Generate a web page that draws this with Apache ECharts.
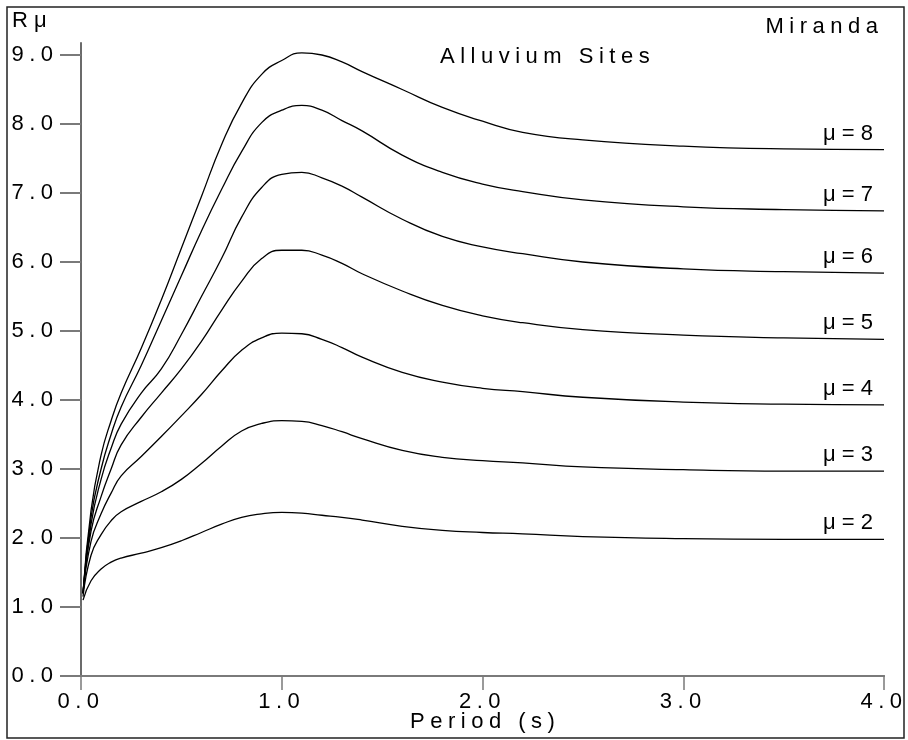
<!DOCTYPE html>
<html>
<head>
<meta charset="utf-8">
<title>Alluvium Sites</title>
<script src="https://cdn.jsdelivr.net/npm/echarts@6/dist/echarts.min.js"></script>
<style>
  html, body { margin: 0; padding: 0; background: #fff; }
  #chart { width: 908px; height: 740px; }
</style>
</head>
<body>
<div id="chart"></div>
<script>
// period (s) sampled along every curve
const periods = [0.01, 0.05, 0.1, 0.15, 0.2, 0.3, 0.4, 0.5, 0.6, 0.7, 0.8, 0.9, 1.0, 1.1, 1.2, 1.3, 1.4, 1.6, 1.8, 2.0, 2.2, 2.5, 3.0, 3.5, 4.0]

// R mu values
const mu8 = [1.2, 2.4, 3.2, 3.7, 4.1, 4.75, 5.45, 6.2, 6.95, 7.7, 8.3, 8.72, 8.92, 9.03, 9.0, 8.9, 8.76, 8.5, 8.24, 8.04, 7.88, 7.77, 7.68, 7.64, 7.63]
const mu7 = [1.2, 2.3, 3.0, 3.5, 3.9, 4.5, 5.15, 5.8, 6.45, 7.05, 7.6, 8.02, 8.2, 8.27, 8.2, 8.05, 7.9, 7.55, 7.3, 7.13, 7.02, 6.9, 6.8, 6.76, 6.74]
const mu6 = [1.2, 2.2, 2.85, 3.3, 3.65, 4.1, 4.45, 4.95, 5.5, 6.05, 6.65, 7.08, 7.27, 7.3, 7.22, 7.1, 6.94, 6.62, 6.37, 6.22, 6.12, 6.0, 5.9, 5.86, 5.84]
const mu5 = [1.2, 2.1, 2.6, 3.0, 3.35, 3.75, 4.1, 4.45, 4.85, 5.3, 5.72, 6.05, 6.17, 6.17, 6.1, 5.98, 5.83, 5.58, 5.37, 5.22, 5.12, 5.02, 4.94, 4.9, 4.88]
const mu4 = [1.2, 1.95, 2.35, 2.65, 2.9, 3.18, 3.47, 3.77, 4.08, 4.42, 4.72, 4.9, 4.97, 4.96, 4.88, 4.76, 4.62, 4.4, 4.26, 4.17, 4.12, 4.04, 3.97, 3.94, 3.93]
const mu3 = [1.15, 1.75, 2.05, 2.25, 2.38, 2.53, 2.67, 2.85, 3.08, 3.33, 3.55, 3.66, 3.7, 3.69, 3.63, 3.54, 3.44, 3.27, 3.17, 3.12, 3.09, 3.03, 2.99, 2.97, 2.97]
const mu2 = [1.1, 1.38, 1.55, 1.65, 1.71, 1.78, 1.86, 1.96, 2.08, 2.2, 2.3, 2.35, 2.37, 2.36, 2.33, 2.3, 2.26, 2.17, 2.11, 2.08, 2.06, 2.02, 1.99, 1.98, 1.98]

const curveNames = ['μ = 8', 'μ = 7', 'μ = 6', 'μ = 5', 'μ = 4', 'μ = 3', 'μ = 2']
const curveValues = [mu8, mu7, mu6, mu5, mu4, mu3, mu2]

const xTickLabels = ['0.0', '1.0', '2.0', '3.0', '4.0']
const yTickLabels = ['0.0', '1.0', '2.0', '3.0', '4.0', '5.0', '6.0', '7.0', '8.0', '9.0']

const font = 'Liberation Sans, Arial, sans-serif'
const gray = '#7a7a7a'
// the plot lettering is spread out, so put a quarter-em space between characters
const spaced = s => s.split('').join('\u2005')

const chart = echarts.init(document.getElementById('chart'))

chart.setOption({
  backgroundColor: '#fff',
  animation: false,
  textStyle: { fontFamily: font, color: '#000' },
  title: [
    { text: 'R μ', left: 12, top: 10, padding: 0,
      textStyle: { fontSize: 22, fontWeight: 'normal', color: '#000', fontFamily: font } },
    { text: spaced('Miranda'), right: 30, top: 16, padding: 0,
      textStyle: { fontSize: 22, fontWeight: 'normal', color: '#000', fontFamily: font } },
    { text: spaced('Alluvium Sites'), left: 440, top: 46, padding: 0,
      textStyle: { fontSize: 22, fontWeight: 'normal', color: '#000', fontFamily: font } }
  ],
  graphic: [
    { type: 'rect', shape: { x: 7, y: 7, width: 897, height: 731 },
      style: { fill: 'none', stroke: '#222', lineWidth: 1.5 }, silent: true }
  ],
  grid: [
    { left: 81, right: 24, top: 43, bottom: 64, outerBoundsMode: 'none' },
    { left: 81, right: 24, top: 55, bottom: 64, outerBoundsMode: 'none' }
  ],
  xAxis: [
    {
      gridIndex: 0, type: 'value', min: 0, max: 4, interval: 1, position: 'bottom',
      axisLine: { lineStyle: { color: gray, width: 2 } },
      axisTick: { length: 14, lineStyle: { color: gray, width: 1.5 } },
      axisLabel: {
        fontSize: 22, color: '#000', margin: 15, fontFamily: font,
        formatter: v => spaced(xTickLabels[Math.round(v)]) + '\u2005'
      },
      splitLine: { show: false },
      name: spaced('Period (s)'), nameLocation: 'middle', nameGap: 35, nameMoveOverlap: false,
      nameTextStyle: { fontSize: 22, color: '#000', fontFamily: font }
    },
    {
      gridIndex: 0, type: 'value', min: 0, max: 4, position: 'top',
      axisLine: { lineStyle: { color: gray, width: 2 } },
      axisTick: { show: false }, axisLabel: { show: false }, splitLine: { show: false }
    },
    { gridIndex: 1, type: 'value', min: 0, max: 4, show: false }
  ],
  yAxis: [
    {
      gridIndex: 0, type: 'value', min: 0, max: 9.174, position: 'left',
      axisLine: { show: true, lineStyle: { color: '#000', width: 1.5 } },
      axisTick: { show: false }, axisLabel: { show: false }, splitLine: { show: false }
    },
    {
      gridIndex: 0, type: 'value', min: 0, max: 9.174, position: 'right',
      axisLine: { show: true, lineStyle: { color: gray, width: 1.5 } },
      axisTick: { show: false }, axisLabel: { show: false }, splitLine: { show: false }
    },
    {
      gridIndex: 1, type: 'value', min: 0, max: 9, interval: 1, position: 'left',
      axisLine: { show: false },
      axisTick: { show: true, length: 21, lineStyle: { color: gray, width: 2 } },
      axisLabel: {
        fontSize: 22, color: '#000', margin: 28, fontFamily: font,
        formatter: v => spaced(yTickLabels[Math.round(v)])
      },
      splitLine: { show: false }
    }
  ],
  series: curveValues.map((vals, i) => ({
    name: curveNames[i],
    type: 'line',
    xAxisIndex: 0,
    yAxisIndex: 0,
    data: periods.map((p, j) => [p, vals[j]]),
    showSymbol: false,
    symbol: 'none',
    smooth: 0.5,
    lineStyle: { color: '#000', width: 1.3 },
    endLabel: {
      show: true,
      formatter: curveNames[i],
      fontSize: 22,
      color: '#000',
      fontFamily: font,
      align: 'right',
      offset: [-19, -16]
    }
  }))
})
</script>
</body>
</html>
